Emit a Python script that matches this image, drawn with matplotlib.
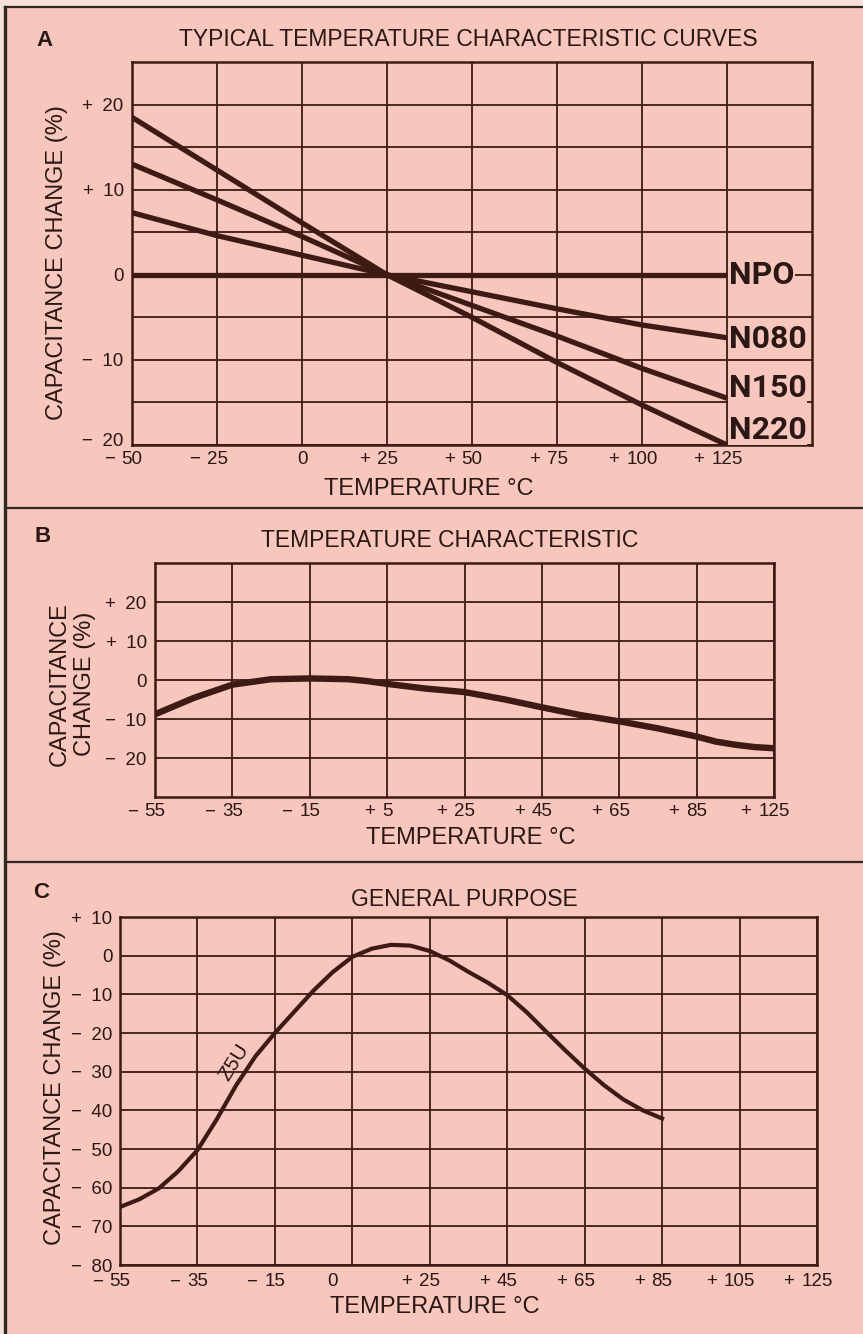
import numpy as np
import matplotlib
matplotlib.use("Agg")
import matplotlib.pyplot as plt
from matplotlib.lines import Line2D
from matplotlib.patches import Rectangle
from matplotlib.ticker import FixedLocator, NullLocator
from matplotlib.transforms import ScaledTranslation

plt.rcParams['font.family'] = ['Liberation Sans', 'DejaVu Sans']

# ── data ─────────────────────────────────────────────────────────────────────
# A: typical temperature characteristic curves
A_TEMP = [-50, -25, 0, 25, 50, 75, 100, 125]
A_NPO  = [0, 0, 0, 0, 0, 0, 0, 0]
A_N080 = [7.3, 4.6, 2.3, 0, -2.0, -4.0, -5.9, -7.4]
A_N150 = [13.0, 8.8, 4.5, 0, -3.6, -7.2, -11.0, -14.5]
A_N220 = [18.5, 12.3, 6.1, 0, -5.0, -10.3, -15.3, -20.0]
A_NAMES = ['NPO', 'N080', 'N150', 'N220']
A_NAME_Y = [0, -7.5, -13.3, -18.2]
A_XTICKS = [-50, -25, 0, 25, 50, 75, 100, 125]
A_XLABELS = ['− 50', '− 25', '0', '+ 25', '+ 50', '+ 75', '+ 100', '+ 125']
A_YTICKS = [-20, -10, 0, 10, 20]
A_YLABELS = ['−\u200220', '−\u200210', '0', '+\u200210', '+\u200220']

# B: temperature characteristic
B_TEMP = [-55, -45, -35, -25, -15, -5, 0, 5, 15, 25, 35, 45, 55, 65, 75, 85,
          95, 105, 115, 125]
B_CAP = [-8.8, -4.6, -1.2, 0.2, 0.4, 0.2, -0.3, -1.0, -2.2, -3.1, -4.9, -7.0,
         -9.0, -10.6, -12.4, -14.5, -15.8, -16.6, -17.2, -17.5]
B_XTICKS = [-55, -35, -15, 5, 25, 45, 65, 85, 125]
B_XLABELS = ['− 55', '− 35', '− 15', '+ 5', '+ 25', '+ 45', '+ 65', '+ 85', '+ 125']
B_YTICKS = [-20, -10, 0, 10, 20]
B_YLABELS = ['−\u200220', '−\u200210', '0', '+\u200210', '+\u200220']

# C: general purpose (Z5U)
C_TEMP = [-55, -50, -45, -40, -35, -30, -25, -20, -15, -10, -5, 0, 5, 10, 15,
          20, 25, 30, 35, 40, 45, 50, 55, 60, 65, 70, 75, 80, 85]
C_CAP = [-65, -63, -60.2, -55.8, -50.3, -42.3, -33.5, -26, -20, -14.5, -9,
         -4.2, -0.3, 1.8, 2.8, 2.6, 1.2, -1.2, -4.2, -7, -10.2, -14.6, -19.6,
         -24.5, -29.2, -33.5, -37.2, -40, -42.1]
C_XGRID = [-55, -35, -15, 5, 25, 45, 65, 85, 105, 125]
C_XTICKS = [-55, -35, -15, 0, 25, 45, 65, 85, 105, 125]
C_XLABELS = ['− 55', '− 35', '− 15', '0', '+ 25', '+ 45', '+ 65', '+ 85', '+ 105', '+ 125']
C_YTICKS = [-80, -70, -60, -50, -40, -30, -20, -10, 0, 10]
C_YLABELS = ['−\u200280', '−\u200270', '−\u200260', '−\u200250', '−\u200240',
             '−\u200230', '−\u200220', '−\u200210', '0', '+\u200210']

# ── style ────────────────────────────────────────────────────────────────────
BG = '#f7c6bd'
LINE = '#3d1a14'
TXT = '#2b1713'
FRAME = '#2f2a20'
FS = 13.5
TS = 16.5
W, H = 863, 1334

fig = plt.figure(figsize=(W / 100, H / 100), dpi=100, facecolor=BG)


def fx(x):
    return x / W


def fy(y):
    return 1 - y / H


def px_axes(l, t, r, b):
    ax = fig.add_axes([l / W, 1 - b / H, (r - l) / W, (b - t) / H])
    ax.set_facecolor(BG)
    for s in ax.spines.values():
        s.set_color(LINE)
        s.set_linewidth(1.8)
    ax.tick_params(which='both', length=0, colors=TXT, labelsize=FS)
    ax.set_axisbelow(True)
    return ax


def signed_xticks(ax, values, labels, pad):
    # number centred on the tick, sign hanging to its left
    nums = [l.split()[-1] for l in labels]
    ax.set_xticks(values, labels=nums)
    ax.tick_params(axis='x', pad=pad)
    for v, l, n in zip(values, labels, nums):
        parts = l.split()
        if len(parts) == 2:
            off = len(n) * 0.556 * FS / 2 + 5.0
            ax.annotate(parts[0], xy=(v, 0), xycoords=ax.get_xaxis_transform(),
                        xytext=(-off, -pad), textcoords='offset points',
                        ha='right', va='top', fontsize=FS, color=TXT)


def ftext(x, y, s, **kw):
    kw.setdefault('color', TXT)
    kw.setdefault('ha', 'center')
    kw.setdefault('va', 'center')
    fig.text(fx(x), fy(y), s, **kw)


# ── outer frame ──────────────────────────────────────────────────────────────
fig.patches.append(Rectangle((0, fy(7)), 1, 1 - fy(7), transform=fig.transFigure,
                             facecolor='#f5e0da', edgecolor='none', zorder=0))
fig.patches.append(Rectangle((0, 0), fx(5), 1, transform=fig.transFigure,
                             facecolor='#f5e0da', edgecolor='none', zorder=0))
for y in [7, 508, 862]:
    fig.add_artist(Line2D([fx(5), 1], [fy(y), fy(y)], color=FRAME, lw=1.6))
fig.add_artist(Line2D([fx(5), fx(5)], [fy(7), 0], color=FRAME, lw=2.4))

# ── panel A ──────────────────────────────────────────────────────────────────
axA = px_axes(132, 62, 812, 445)
axA.set_xlim(-50, 150)
axA.set_ylim(-20, 25)
signed_xticks(axA, A_XTICKS, A_XLABELS, pad=4)
axA.set_yticks(A_YTICKS, labels=A_YLABELS)
axA.yaxis.set_minor_locator(FixedLocator([-15, -5, 5, 15]))
axA.tick_params(axis='y', pad=6)
bottom_lab = axA.yaxis.get_majorticklabels()[0]
bottom_lab.set_transform(bottom_lab.get_transform()
                         + ScaledTranslation(0, 0.06, fig.dpi_scale_trans))
axA.grid(which='major', color=LINE, lw=1.3)
axA.grid(which='minor', axis='y', color=LINE, lw=1.3)
for vals in [A_NPO, A_N080, A_N150, A_N220]:
    axA.plot(A_TEMP, vals, color=LINE, lw=3.8, solid_capstyle='butt')
for name, y in zip(A_NAMES, A_NAME_Y):
    axA.text(125.6, y, name, ha='left', va='center', fontsize=23,
             fontweight='bold', color=TXT, family=['Roboto', 'DejaVu Sans'],
             bbox=dict(facecolor=BG, edgecolor='none', pad=0.5))

ftext(44, 41, 'A', fontsize=16, fontweight='bold')
ftext(468, 40, 'TYPICAL TEMPERATURE CHARACTERISTIC CURVES', fontsize=TS)
ftext(57, 263, 'CAPACITANCE CHANGE (%)', fontsize=17, rotation=90)
ftext(429, 489, 'TEMPERATURE °C', fontsize=17)

# ── panel B ──────────────────────────────────────────────────────────────────
def b_fwd(x):
    x = np.asarray(x, dtype=float)
    return np.where(x <= 85, x, 85 + (x - 85) / 2)


def b_inv(y):
    y = np.asarray(y, dtype=float)
    return np.where(y <= 85, y, 85 + (y - 85) * 2)


axB = px_axes(155, 563, 774, 797)
axB.set_xscale('function', functions=(b_fwd, b_inv))
axB.set_xlim(-55, 125)
axB.set_ylim(-30, 30)
signed_xticks(axB, B_XTICKS, B_XLABELS, pad=4.5)
axB.xaxis.set_minor_locator(NullLocator())
axB.set_yticks(B_YTICKS, labels=B_YLABELS)
axB.tick_params(axis='y', pad=6)
axB.grid(which='major', color=LINE, lw=1.3)
axB.plot(B_TEMP, B_CAP, color=LINE, lw=4.6, solid_capstyle='butt')

ftext(43, 537, 'B', fontsize=16, fontweight='bold')
ftext(450, 541, 'TEMPERATURE CHARACTERISTIC', fontsize=TS)
ftext(72, 684, 'CAPACITANCE\nCHANGE (%)', fontsize=17, rotation=90,
      linespacing=1.2)
ftext(471, 838, 'TEMPERATURE °C', fontsize=17)

# ── panel C ──────────────────────────────────────────────────────────────────
axC = px_axes(120, 917, 817, 1265)
axC.set_xlim(-55, 125)
axC.set_ylim(-80, 10)
signed_xticks(axC, C_XTICKS, C_XLABELS, pad=6)
axC.xaxis.remove_overlapping_locs = False
axC.xaxis.set_minor_locator(FixedLocator(C_XGRID))
axC.set_yticks(C_YTICKS, labels=C_YLABELS)
axC.tick_params(axis='y', pad=5.5)
axC.grid(which='minor', axis='x', color=LINE, lw=1.3)
axC.grid(which='major', axis='y', color=LINE, lw=1.3)
axC.plot(C_TEMP, C_CAP, color=LINE, lw=3.0)
axC.text(-25.5, -27.5, 'Z5U', rotation=58, ha='center', va='center',
         fontsize=15, color=TXT)

ftext(41, 892, 'C', fontsize=16, fontweight='bold')
ftext(464, 900, 'GENERAL PURPOSE', fontsize=TS)
ftext(55, 1088, 'CAPACITANCE CHANGE (%)', fontsize=17, rotation=90)
ftext(435, 1307, 'TEMPERATURE °C', fontsize=17)

fig.savefig('out.png', dpi=100, facecolor=BG)
